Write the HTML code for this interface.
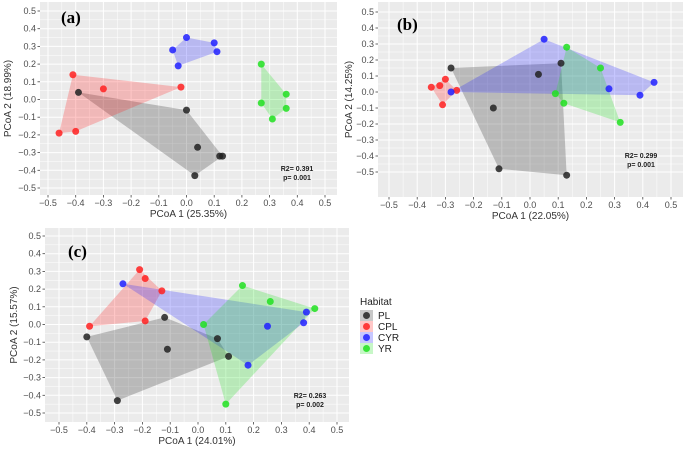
<!DOCTYPE html>
<html><head><meta charset="utf-8">
<style>
body{margin:0;background:#fff;font-family:"Liberation Sans",sans-serif;}
svg{display:block}
</style></head>
<body>
<svg id="c" width="685" height="451" xmlns="http://www.w3.org/2000/svg"></svg>
<script>
const groups = ["PL","CPL","CYR","YR"];
const colors = {PL:"#222222",CPL:"#ff2020",CYR:"#2020ff",YR:"#20e020"};
const ticks = [-0.5,-0.4,-0.3,-0.2,-0.1,0.0,0.1,0.2,0.3,0.4,0.5];
const tickLabels = ["−0.5","−0.4","−0.3","−0.2","−0.1","0.0","0.1","0.2","0.3","0.4","0.5"];
// panel (a)
const aPL = [[-0.39,0.04],[0.0,-0.06],[0.04,-0.27],[0.03,-0.43],[0.12,-0.32],[0.13,-0.32]];
const aCPL = [[-0.41,0.14],[-0.3,0.06],[-0.46,-0.19],[-0.4,-0.18],[-0.02,0.07]];
const aCYR = [[-0.05,0.28],[0.0,0.35],[0.1,0.32],[0.11,0.27],[-0.03,0.19]];
const aYR = [[0.27,0.2],[0.27,-0.02],[0.36,0.03],[0.36,-0.05],[0.31,-0.11]];
// panel (b)
const bPL = [[-0.28,0.15],[-0.13,-0.1],[0.03,0.11],[0.11,0.18],[-0.11,-0.48],[0.13,-0.52]];
const bCPL = [[-0.35,0.03],[-0.32,0.04],[-0.3,0.08],[-0.31,-0.08],[-0.26,0.01]];
const bCYR = [[-0.28,0.0],[0.05,0.33],[0.28,0.02],[0.39,-0.02],[0.44,0.06]];
const bYR = [[0.13,0.28],[0.25,0.15],[0.09,-0.01],[0.12,-0.07],[0.32,-0.19]];
// panel (c)
const cPL = [[-0.4,-0.07],[-0.12,0.04],[-0.11,-0.14],[0.07,-0.08],[0.11,-0.18],[-0.29,-0.43]];
const cCPL = [[-0.21,0.31],[-0.19,0.26],[-0.13,0.19],[-0.39,-0.01],[-0.19,0.02]];
const cCYR = [[-0.27,0.23],[0.39,0.07],[0.38,0.01],[0.25,-0.01],[0.18,-0.23]];
const cYR = [[0.16,0.22],[0.26,0.13],[0.42,0.09],[0.02,0.0],[0.1,-0.45]];
const stats = {a:["R2= 0.391","p= 0.001"],b:["R2= 0.299","p= 0.001"],c:["R2= 0.263","p= 0.002"]};

const NS="http://www.w3.org/2000/svg";
const svg=document.getElementById('c');
function mk(tag,attrs,parent){const e=document.createElementNS(NS,tag);for(const k in attrs)e.setAttribute(k,attrs[k]);(parent||svg).appendChild(e);return e;}
function hull(pts){
  const p=pts.slice().sort((a,b)=>a[0]-b[0]||a[1]-b[1]);
  const cr=(o,a,b)=>(a[0]-o[0])*(b[1]-o[1])-(a[1]-o[1])*(b[0]-o[0]);
  const lo=[],up=[];
  for(const q of p){while(lo.length>=2&&cr(lo[lo.length-2],lo[lo.length-1],q)<=0)lo.pop();lo.push(q);}
  for(const q of p.slice().reverse()){while(up.length>=2&&cr(up[up.length-2],up[up.length-1],q)<=0)up.pop();up.push(q);}
  return lo.slice(0,-1).concat(up.slice(0,-1));
}
function panel(id,cfg,data){
  const g=mk('g',{});
  
  
  const sx=v=>cfg.xm5+(v+0.5)/1.0*(cfg.xp5-cfg.xm5);
  const sy=v=>cfg.ym5+(v+0.5)/1.0*(cfg.yp5-cfg.ym5);
  const bg=mk('rect',{x:cfg.l,y:cfg.t,width:cfg.r-cfg.l,height:cfg.b-cfg.t,fill:"#ebebeb"},g);
  
  
  for(let i=0;i<ticks.length;i++){
    const v=ticks[i];
    mk('line',{x1:sx(v),x2:sx(v),y1:cfg.t,y2:cfg.b,stroke:"#fff","stroke-width":1},g);
    mk('line',{x1:cfg.l,x2:cfg.r,y1:sy(v),y2:sy(v),stroke:"#fff","stroke-width":1},g);
    mk('line',{x1:sx(v),x2:sx(v),y1:cfg.b,y2:cfg.b+2.5,stroke:"#444","stroke-width":0.8},g);
    mk('line',{x1:cfg.l-2.5,x2:cfg.l,y1:sy(v),y2:sy(v),stroke:"#444","stroke-width":0.8},g);
    if(i<ticks.length-1){const m=v+0.05;
      mk('line',{x1:sx(m),x2:sx(m),y1:cfg.t,y2:cfg.b,stroke:"#fff","stroke-width":0.5},g);
      mk('line',{x1:cfg.l,x2:cfg.r,y1:sy(m),y2:sy(m),stroke:"#fff","stroke-width":0.5},g);}
    const xt=mk('text',{x:sx(v),y:cfg.b+11,"font-size":9,fill:"#4d4d4d","text-anchor":"middle"},g);
    xt.textContent=tickLabels[i];
    
    
    const yt=mk('text',{x:cfg.l-4,y:sy(v)+3,"font-size":9,fill:"#4d4d4d","text-anchor":"end"},g);
    yt.textContent=tickLabels[i];
    
    
  }
  for(let i=0;i<groups.length;i++){
    const pts=data[i];const h=hull(pts);
    const poly=mk('polygon',{points:h.map(p=>sx(p[0])+","+sy(p[1])).join(" "),fill:colors[groups[i]],"fill-opacity":0.25},g);
    
    
  }
  for(let i=0;i<groups.length;i++){
    for(const p of data[i]){
      const c=mk('circle',{cx:sx(p[0]),cy:sy(p[1]),r:3.5,fill:colors[groups[i]],"fill-opacity":0.85},g);
      
      
    }
  }
  const xt=mk('text',{x:(cfg.l+cfg.r)/2,y:cfg.b+22,"font-size":10,fill:"#333","text-anchor":"middle"},g);
  xt.textContent=cfg.xtitle;
  
  
  const yy=(cfg.t+cfg.b)/2;
  const yt=mk('text',{x:cfg.ytx,y:yy,"font-size":10,fill:"#333","text-anchor":"middle",transform:`rotate(-90 ${cfg.ytx} ${yy})`},g);
  yt.textContent=cfg.ytitle;
  
  
  const lt=mk('text',{x:cfg.lx,y:cfg.ly,"font-size":17,"font-weight":"bold","font-family":"Liberation Serif,serif",fill:"#000"},g);
  lt.textContent="("+id+")";
  
  
  for(let k=0;k<2;k++){
    const s=mk('text',{x:cfg.sx,y:cfg.sy+k*9,"font-size":7,"font-weight":"bold",fill:"#222","text-anchor":"middle"},g);
    s.textContent=stats[id][k];
    
    
  }
}
panel('a',{l:40,r:337,t:2,b:195,xm5:48,xp5:325,ym5:188,yp5:11,xtitle:"PCoA 1 (25.35%)",ytitle:"PCoA 2 (18.99%)",ytx:11,lx:61,ly:23,sx:297,sy:171},[aPL,aCPL,aCYR,aYR]);
panel('b',{l:378,r:683,t:2,b:197,xm5:389,xp5:671,ym5:172,yp5:12,xtitle:"PCoA 1 (22.05%)",ytitle:"PCoA 2 (14.25%)",ytx:352,lx:397,ly:30,sx:641,sy:158},[bPL,bCPL,bCYR,bYR]);
panel('c',{l:45,r:349,t:228,b:422,xm5:59,xp5:337,ym5:413,yp5:236,xtitle:"PCoA 1 (24.01%)",ytitle:"PCoA 2 (15.57%)",ytx:17,lx:68,ly:257,sx:310,sy:398},[cPL,cCPL,cCYR,cYR]);

// legend
const lg=mk('g',{});


const lt=mk('text',{x:360,y:305,"font-size":10,fill:"#222"},lg);
lt.textContent="Habitat";


groups.forEach((gname,i)=>{
  const y=310+i*11;
  const e=mk('g',{},lg);
  
  
  mk('rect',{x:360,y:y,width:13,height:11,fill:colors[gname],"fill-opacity":0.25},e);
  mk('circle',{cx:366.5,cy:y+5.5,r:3.5,fill:colors[gname],"fill-opacity":0.85},e);
  const t=mk('text',{x:378,y:y+9,"font-size":10,fill:"#222"},e);
  t.textContent=gname;
});
</script>
</body></html>
